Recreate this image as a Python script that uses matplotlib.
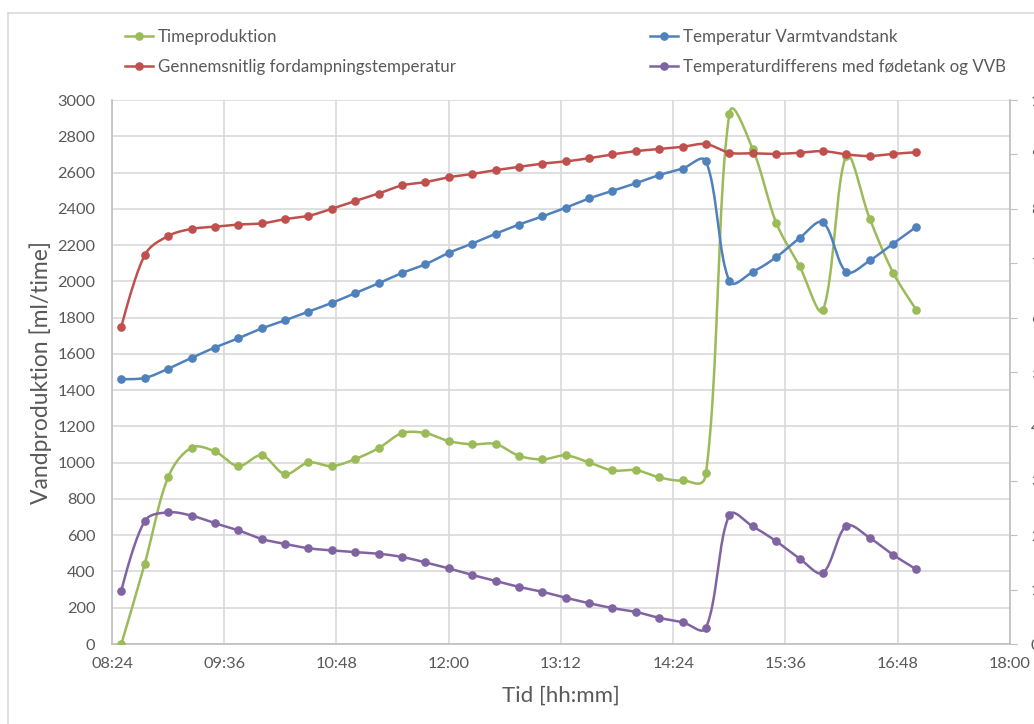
import numpy as np
import matplotlib
matplotlib.use("Agg")
import matplotlib.pyplot as plt
from matplotlib.lines import Line2D

plt.rcParams['font.family'] = ['Lato', 'DejaVu Sans']

# Measurement times (hh:mm)
times = ["08:30", "08:45", "09:00", "09:15", "09:30", "09:45", "10:00", "10:15", "10:30",
         "10:45", "11:00", "11:15", "11:30", "11:45", "12:00", "12:15", "12:30", "12:45",
         "13:00", "13:15", "13:30", "13:45", "14:00", "14:15", "14:30", "14:45", "15:00",
         "15:15", "15:30", "15:45", "16:00", "16:15", "16:30", "16:45", "17:00"]

# Left axis: water production [ml/time]
timeproduktion = [0, 443, 920, 1083, 1062, 981, 1040, 937, 1001, 981, 1020, 1080, 1163, 1163,
                  1119, 1101, 1103, 1038, 1018, 1040, 1001, 957, 959, 919, 902, 941,
                  2925, 2728, 2324, 2084, 1842, 2691, 2346, 2048, 1842]

# Right axis: temperatures [C]
fordampning = [58.3, 71.5, 75.0, 76.3, 76.7, 77.1, 77.3, 78.1, 78.7, 80.0, 81.4, 82.8, 84.3,
               84.9, 85.8, 86.4, 87.1, 87.7, 88.3, 88.7, 89.3, 90.0, 90.6, 91.0, 91.4, 91.9,
               90.3, 90.2, 90.1, 90.3, 90.6, 90.0, 89.7, 90.1, 90.4]
varmtvandstank = [48.7, 48.9, 50.6, 52.6, 54.5, 56.2, 58.0, 59.5, 61.1, 62.7, 64.5, 66.3, 68.2,
                  69.8, 71.9, 73.6, 75.4, 77.1, 78.6, 80.2, 81.9, 83.3, 84.7, 86.2, 87.4, 88.7,
                  66.7, 68.4, 71.1, 74.6, 77.5, 68.4, 70.5, 73.6, 76.7]
differens = [9.8, 22.6, 24.2, 23.6, 22.2, 20.9, 19.3, 18.4, 17.6, 17.2, 16.9, 16.6, 16.0,
             15.0, 13.9, 12.7, 11.6, 10.5, 9.6, 8.5, 7.5, 6.6, 5.9, 4.8, 4.0, 3.0,
             23.7, 21.6, 18.9, 15.7, 13.1, 21.7, 19.5, 16.4, 13.7]

x = np.array([int(t[:2]) * 60 + int(t[3:]) for t in times], dtype=float)

GREEN = '#9BBB59'
RED = '#C0504D'
BLUE = '#4F81BD'
PURPLE = '#8064A2'
TXT = '#595959'
GRID = '#D9D9D9'

xmin, xmax = 8 * 60 + 24, 18 * 60


def smooth(xs, ys, yspan, n=24):
    # Excel-like smoothed line: Bezier handles scaled by neighbouring segment lengths
    px = (np.asarray(xs) - xmin) / (xmax - xmin) * 898
    py = np.asarray(ys) / yspan * 544
    P = np.column_stack([px, py])
    N = len(P)
    d = np.hypot(*np.diff(P, axis=0).T)
    cin = P.copy()
    cout = P.copy()
    for i in range(1, N - 1):
        T = P[i + 1] - P[i - 1]
        s = d[i - 1] + d[i]
        cout[i] = P[i] + T * (0.8 * d[i] / s + 0.1) / 3
        cin[i] = P[i] - T * (0.8 * d[i - 1] / s + 0.1) / 3
    out = []
    t = np.linspace(0, 1, n)[:, None]
    for i in range(N - 1):
        p0, p3 = P[i], P[i + 1]
        c1, c2 = cout[i], cin[i + 1]
        seg = (1 - t) ** 3 * p0 + 3 * (1 - t) ** 2 * t * c1 + 3 * (1 - t) * t ** 2 * c2 + t ** 3 * p3
        out.append(seg if i == 0 else seg[1:])
    pts = np.vstack(out)
    return pts[:, 0] / 898 * (xmax - xmin) + xmin, pts[:, 1] / 544 * yspan


fig = plt.figure(figsize=(10.34, 7.24), dpi=100)
ax = fig.add_axes([112 / 1034, 80 / 724, 898 / 1034, 544 / 724])
ax2 = ax.twinx()

lw, ms = 1.8, 5.2
sx, sy = smooth(x, timeproduktion, 3000)
ax.plot(sx, sy, color=GREEN, lw=lw, zorder=3)
ax.plot(x, timeproduktion, 'o', color=GREEN, ms=ms, zorder=4)

for vals, col in [(fordampning, RED), (varmtvandstank, BLUE), (differens, PURPLE)]:
    sx, sy = smooth(x, vals, 100)
    ax2.plot(sx, sy, color=col, lw=lw)
    ax2.plot(x, vals, 'o', color=col, ms=ms)

ax.set_xlim(xmin, xmax)
ax.set_ylim(0, 3000)
ax2.set_ylim(0, 100)

xt = np.arange(xmin, xmax + 1, 72)
ax.set_xticks(xt)
ax.set_xticklabels(["%02d:%02d" % (v // 60, v % 60) for v in xt.astype(int)])
ax.set_yticks(np.arange(0, 3001, 200))
ax2.set_yticks(np.arange(0, 101, 10))

ax.grid(True, color=GRID, lw=1.2)
ax.set_axisbelow(True)

for a in (ax, ax2):
    for s in a.spines.values():
        s.set_visible(False)
ax.spines['left'].set_visible(True)
ax.spines['bottom'].set_visible(True)
ax2.spines['right'].set_visible(True)
for s in (ax.spines['left'], ax.spines['bottom'], ax2.spines['right']):
    s.set_color('#BFBFBF')
    s.set_linewidth(1.2)

ax.tick_params(axis='both', length=0, colors=TXT, labelsize=11.8)
ax.tick_params(axis='y', pad=12)
ax.tick_params(axis='x', pad=9)
ax2.tick_params(axis='y', length=5, color='#BFBFBF', labelcolor=TXT, labelsize=11.8, pad=10)

ax.set_ylabel('Vandproduktion [ml/time]', fontsize=16.5, color=TXT, labelpad=4)
ax.set_xlabel('Tid [hh:mm]', fontsize=16, color=TXT, labelpad=11)


def handle(c):
    return Line2D([], [], color=c, lw=lw, marker='o', ms=ms)


legkw = dict(loc='upper left', frameon=False, fontsize=12.2, labelcolor=TXT, handlelength=1.65,
             handletextpad=0.3, labelspacing=0.8, borderpad=0, borderaxespad=0)
fig.legend([handle(GREEN), handle(RED)], ['Timeproduktion', 'Gennemsnitlig fordampningstemperatur'],
           bbox_to_anchor=(125 / 1034, 1 - 29 / 724), **legkw)
fig.legend([handle(BLUE), handle(PURPLE)], ['Temperatur Varmtvandstank', 'Temperaturdifferens med fødetank og VVB'],
           bbox_to_anchor=(650 / 1034, 1 - 29 / 724), **legkw)

# chart area border (partly outside the picture)
fig.add_artist(Line2D([8 / 1034, 8 / 1034], [0, 1 - 13 / 724], color='#D9D9D9', lw=1.2, transform=fig.transFigure))
fig.add_artist(Line2D([8 / 1034, 1], [1 - 13 / 724, 1 - 13 / 724], color='#D9D9D9', lw=1.2, transform=fig.transFigure))

fig.savefig('out.png', dpi=100)
